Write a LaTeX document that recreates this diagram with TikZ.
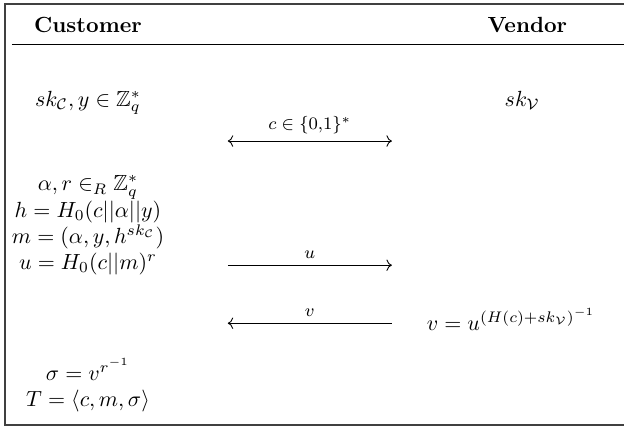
\documentclass[tikz,border=0pt]{standalone}
\usepackage{amsmath,amssymb}
\usetikzlibrary{arrows.meta,positioning}

\begin{document}
\begin{tikzpicture}[every node/.style={inner sep=0pt},
  party/.style={anchor=base,font=\bfseries},
  stepline/.style={anchor=base},
  msg/.style={font=\footnotesize,above=3pt}]
\useasboundingbox (0,0) rectangle (10,-6.84);
% frame (right side runs off the page)
\draw[line width=0.8pt,black!75] (10.3,-0.065)--(0.08,-0.065)--(0.08,-6.81)--(10.3,-6.81);
\node[party] (cust) at (1.41,-0.52) {Customer};
\node[party] (vend) at (8.45,-0.52) {Vendor};
\draw (0.19,-0.72)--(10.1,-0.72);
% customer side
\node[stepline] (skc) at (1.41,-1.70) {$sk_{\mathcal{C}}, y\in\mathbb{Z}_q^*$};
\node[stepline] (alph) at (1.41,-3.06) {$\alpha, r\in_R\mathbb{Z}_q^*$};
\node[stepline] (hval) at (1.41,-3.48) {$h=H_0(c||\alpha||y)$};
\node[stepline] (mval) at (1.41,-3.90) {$m=(\alpha,y,h^{sk_{\mathcal{C}}})$};
\node[stepline] (uval) at (1.41,-4.32) {$u=H_0(c||m)^r$};
\node[stepline] (sig) at (1.41,-6.09) {$\sigma=v^{r^{-1}}$};
\node[stepline] (tok) at (1.41,-6.52) {$T=\langle c,m,\sigma\rangle$};
% vendor side
\node[stepline] (skv) at (8.37,-1.70) {$sk_{\mathcal{V}}$};
\node[stepline] (vval) at (8.19,-5.29) {$v=u^{(H(c)+sk_{\mathcal{V}})^{-1}}$};
% messages
\coordinate (cL) at (3.65,-2.26); \coordinate (cR) at (6.28,-2.26);
\coordinate (uL) at (3.65,-4.25); \coordinate (uR) at (6.28,-4.25);
\coordinate (vL) at (3.65,-5.18); \coordinate (vR) at (6.28,-5.18);
\draw[<->] (cL)--node[msg] (cmsg) {$c\in\{0{,}1\}^*$} (cR);
\draw[->] (uL)--node[msg] (umsg) {$u$} (uR);
\draw[<-] (vL)--node[msg] (vmsg) {$v$} (vR);
\end{tikzpicture}
\end{document}
